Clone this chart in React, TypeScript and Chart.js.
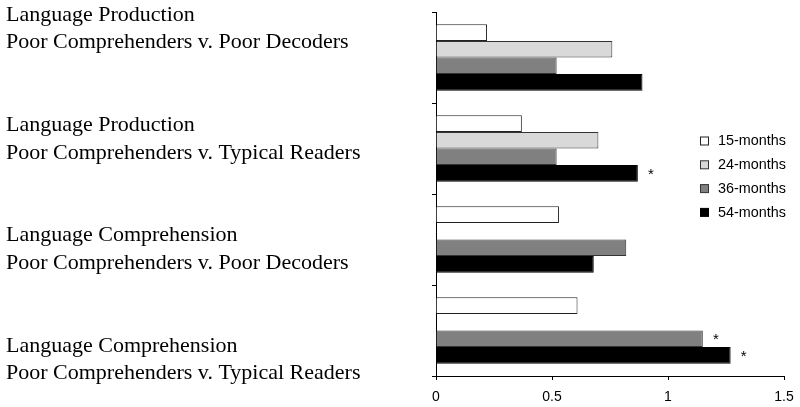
import React, { useEffect, useRef } from "react";
import { Chart, registerables } from "chart.js";
Chart.register(...registerables);

const categoryLines: string[][] = [
  ["Language Production", "Poor Comprehenders v. Poor Decoders"],
  ["Language Production", "Poor Comprehenders v. Typical Readers"],
  ["Language Comprehension", "Poor Comprehenders v. Poor Decoders"],
  ["Language Comprehension", "Poor Comprehenders v. Typical Readers"],
];
const seriesLabels = ["15-months", "24-months", "36-months", "54-months"];
const months15 = [0.22, 0.37, 0.53, 0.61];
const months24 = [0.76, 0.7, null, null];
const months36 = [0.52, 0.52, 0.82, 1.15];
const months54 = [0.89, 0.87, 0.68, 1.27];
const sig15 = [false, false, false, false];
const sig24 = [false, false, false, false];
const sig36 = [false, false, false, true];
const sig54 = [false, true, false, true];
const xMin = 0;
const xMax = 1.5;
const xStep = 0.5;

const fills = ["#ffffff", "#d9d9d9", "#808080", "#000000"];
const borders = ["#222222", "#333333", "#333333", "#000000"];

export default function App() {
  const ref = useRef<HTMLCanvasElement | null>(null);
  useEffect(() => {
    if (!ref.current) return;
    const seriesValues = [months15, months24, months36, months54];
    const sigs = [sig15, sig24, sig36, sig54];
    const sans = "'Liberation Sans', Arial, sans-serif";
    const serif = "'Liberation Serif', 'Times New Roman', serif";

    const overlay = {
      id: "overlay",
      afterDraw(chart: any) {
        const ctx = chart.ctx;
        ctx.save();
        // category labels
        ctx.fillStyle = "#000";
        ctx.font = `22px ${serif}`;
        ctx.textAlign = "left";
        ctx.textBaseline = "middle";
        categoryLines.forEach((lines, i) => {
          lines.forEach((line, j) => {
            ctx.fillText(line, 6, 15 + i * 110.3 + j * 27.5);
          });
        });
        // asterisks
        ctx.font = `15px ${sans}`;
        ctx.textAlign = "center";
        ctx.textBaseline = "middle";
        chart.data.datasets.forEach((ds: any, di: number) => {
          const meta = chart.getDatasetMeta(di);
          meta.data.forEach((el: any, i: number) => {
            if (sigs[di][i] && ds.data[i] != null) {
              ctx.fillText("*", el.x + 13, el.y + 1);
            }
          });
        });
        // legend
        ctx.font = `14.4px ${sans}`;
        ctx.textAlign = "left";
        ctx.textBaseline = "middle";
        seriesLabels.forEach((lab, i) => {
          const cy = 141.5 + i * 23.8;
          ctx.fillStyle = fills[i];
          ctx.fillRect(700.5, cy - 4.5, 8, 8);
          ctx.strokeStyle = borders[i];
          ctx.lineWidth = 1;
          ctx.strokeRect(700.5, cy - 4.5, 8, 8);
          ctx.fillStyle = "#000";
          ctx.fillText(lab, 718, cy);
        });
        ctx.restore();
      },
    };

    const chart = new Chart(ref.current, {
      type: "bar",
      data: {
        labels: categoryLines.map((l) => l.join(" ")),
        datasets: seriesValues.map((vals, i) => ({
          label: seriesLabels[i],
          data: vals as any,
          backgroundColor: fills[i],
          borderColor: borders[i],
          borderWidth: 1,
          categoryPercentage: 0.73,
          barPercentage: 1,
        })),
      },
      options: {
        indexAxis: "y",
        animation: false,
        responsive: true,
        maintainAspectRatio: false,
        layout: { padding: { top: 12, right: 16, bottom: 0, left: 0 } },
        plugins: { legend: { display: false }, tooltip: { enabled: false } },
        scales: {
          x: {
            type: "linear",
            min: xMin,
            max: xMax,
            ticks: {
              stepSize: xStep,
              color: "#000",
              font: { family: sans, size: 14 },
              padding: 9,
              callback: (v: any) => String(Number(v)),
            },
            grid: {
              drawOnChartArea: false,
              tickLength: 4,
              color: "#000",
              tickColor: "#000",
            },
            border: { color: "#000", width: 1 },
            afterFit: (s: any) => {
              s.height = 31;
              s.paddingLeft = 0;
              s.paddingRight = 0;
            },
          },
          y: {
            type: "category",
            ticks: { display: false },
            grid: {
              offset: true,
              drawOnChartArea: false,
              tickLength: 4,
              color: "#000",
              tickColor: "#000",
            },
            border: { color: "#000", width: 1 },
            afterFit: (s: any) => {
              s.width = 436;
            },
          },
        },
      },
      plugins: [overlay],
    });
    return () => chart.destroy();
  }, []);

  return (
    <div style={{ position: "fixed", left: 0, top: 0, width: 800, height: 407, background: "#fff" }}>
      <canvas ref={ref} />
    </div>
  );
}
